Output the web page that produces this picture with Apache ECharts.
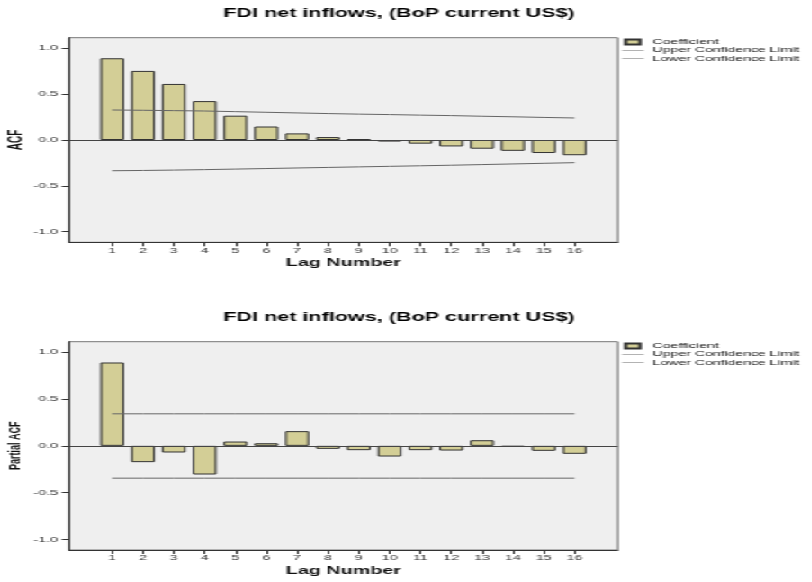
<!DOCTYPE html>
<html>
<head>
<meta charset="utf-8">
<script src="https://cdn.jsdelivr.net/npm/echarts@6/dist/echarts.min.js"></script>
<style>
  html, body { margin: 0; padding: 0; background: #fff; overflow: hidden; }
  /* reference is stretched sideways: draw narrow, then widen */
  #wrap { width: 451px; height: 582px; transform: scaleX(1.8); transform-origin: 0 0; }
  .chart { width: 451px; height: 291px; }
</style>
</head>
<body>
<div id="wrap">
  <div id="acf" class="chart"></div>
  <div id="pacf" class="chart"></div>
</div>
<script>
const chartTitle = 'FDI net inflows, (BoP current US$)'
const lags = [1, 2, 3, 4, 5, 6, 7, 8, 9, 10, 11, 12, 13, 14, 15, 16]
const yTicks = [-1, -0.5, 0, 0.5, 1]
const legendNames = ['Coefficient', 'Upper Confidence Limit', 'Lower Confidence Limit']

const acfValues = [0.891, 0.753, 0.611, 0.424, 0.265, 0.147, 0.072, 0.032, 0.009, -0.017, -0.040, -0.070, -0.095, -0.118, -0.142, -0.166]
const acfUpper = [0.327, 0.324, 0.320, 0.316, 0.309, 0.302, 0.295, 0.288, 0.282, 0.277, 0.271, 0.266, 0.259, 0.253, 0.246, 0.240]
const acfLower = [-0.335, -0.332, -0.328, -0.323, -0.317, -0.311, -0.305, -0.299, -0.293, -0.287, -0.281, -0.275, -0.268, -0.261, -0.254, -0.247]

const pacfValues = [0.890, -0.174, -0.071, -0.306, 0.046, 0.028, 0.157, -0.032, -0.046, -0.114, -0.046, -0.050, 0.060, -0.010, -0.053, -0.085]
const pacfUpper = [0.342, 0.342, 0.342, 0.342, 0.342, 0.342, 0.342, 0.342, 0.342, 0.342, 0.342, 0.342, 0.342, 0.342, 0.342, 0.342]
const pacfLower = [-0.345, -0.345, -0.345, -0.345, -0.345, -0.345, -0.345, -0.345, -0.345, -0.345, -0.345, -0.345, -0.345, -0.345, -0.345, -0.345]

const font = "'Liberation Sans', Arial, sans-serif"
const narrowFont = "'Liberation Sans Narrow', 'Liberation Sans', Arial, sans-serif"
const limitColor = '#666'

function pairs(values) {
  return lags.map((lag, i) => [lag, values[i]])
}

function buildOption(cfg) {
  return {
    animation: false,
    title: {
      text: chartTitle,
      left: 124,
      top: cfg.titleTop,
      padding: 0,
      textStyle: { fontFamily: font, fontSize: 12, fontWeight: 'bold', color: '#000' }
    },
    legend: {
      orient: 'vertical',
      left: 345.6,
      top: cfg.legendTop,
      padding: 0,
      itemGap: 0,
      itemWidth: 12,
      itemHeight: 5,
      selectedMode: false,
      textStyle: { fontFamily: font, fontSize: 7.8, lineHeight: 8.3, color: '#111' },
      data: [
        { name: legendNames[0], icon: 'path://M0,0H8V5H0Z' },
        { name: legendNames[1], icon: 'path://M0,0H24V1H0Z' },
        { name: legendNames[2], icon: 'path://M0,0H24V1H0Z' }
      ]
    },
    grid: {
      left: 38.3,
      right: 107.8,
      top: cfg.gridTop,
      height: cfg.gridHeight,
      outerBoundsMode: 'none',
      containLabel: false,
      show: true,
      backgroundColor: '#efefef',
      borderColor: '#777',
      borderWidth: 1
    },
    xAxis: {
      type: 'value',
      min: -0.4,
      max: 17.4,
      name: 'Lag Number',
      nameLocation: 'middle',
      nameGap: 15,
      nameMoveOverlap: false,
      nameTextStyle: { fontFamily: font, fontSize: 11, fontWeight: 'bold', color: '#111' },
      axisLine: { onZero: false, lineStyle: { color: '#333', width: 1 } },
      axisTick: { show: true, customValues: lags, length: 4, lineStyle: { color: '#333' } },
      axisLabel: { customValues: lags, margin: 4, fontFamily: font, fontSize: 8, color: '#333' },
      splitLine: { show: false }
    },
    yAxis: {
      type: 'value',
      min: -cfg.yMax,
      max: cfg.yMax,
      name: cfg.yName,
      nameLocation: 'middle',
      nameGap: cfg.yNameGap,
      nameMoveOverlap: false,
      nameTextStyle: { fontFamily: narrowFont, fontSize: cfg.yNameSize, fontWeight: 'bold', color: '#111' },
      axisLine: { show: true, onZero: false, lineStyle: { color: '#333', width: 1 } },
      axisTick: { show: true, customValues: yTicks, length: 4, lineStyle: { color: '#333' } },
      axisLabel: {
        customValues: yTicks,
        margin: 6,
        fontFamily: font,
        fontSize: 8,
        color: '#333',
        formatter: v => v.toFixed(1)
      },
      splitLine: { show: false }
    },
    series: [
      {
        name: legendNames[0],
        type: 'bar',
        data: pairs(cfg.values),
        barWidth: 13.3,
        itemStyle: { color: '#d3ce96', borderColor: '#333', borderWidth: 1 },
        markLine: {
          silent: true,
          symbol: ['none', 'none'],
          label: { show: false },
          lineStyle: { color: '#444', width: 1, type: 'solid' },
          data: [{ yAxis: 0 }]
        }
      },
      {
        name: legendNames[1],
        type: 'line',
        data: pairs(cfg.upper),
        symbol: 'none',
        itemStyle: { color: limitColor },
        lineStyle: { color: limitColor, width: 1 }
      },
      {
        name: legendNames[2],
        type: 'line',
        data: pairs(cfg.lower),
        symbol: 'none',
        itemStyle: { color: limitColor },
        lineStyle: { color: limitColor, width: 1 }
      }
    ]
  }
}

const acfChart = echarts.init(document.getElementById('acf'))
acfChart.setOption(buildOption({
  values: acfValues,
  upper: acfUpper,
  lower: acfLower,
  yName: 'ACF',
  yNameSize: 10,
  yNameGap: 24,
  yMax: 1.115,
  titleTop: 8,
  legendTop: 37.9,
  gridTop: 37.7,
  gridHeight: 204.6
}))

const pacfChart = echarts.init(document.getElementById('pacf'))
pacfChart.setOption(buildOption({
  values: pacfValues,
  upper: pacfUpper,
  lower: pacfLower,
  yName: 'Partial ACF',
  yNameSize: 9,
  yNameGap: 25.5,
  yMax: 1.112,
  titleTop: 20.5,
  legendTop: 50.9,
  gridTop: 50.7,
  gridHeight: 208.3
}))
</script>
</body>
</html>
